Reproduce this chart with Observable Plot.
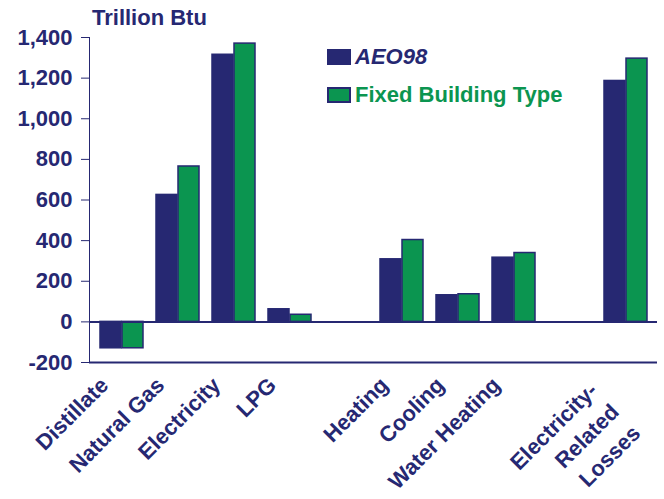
<!DOCTYPE html>
<html>
<head>
<meta charset="utf-8">
<script src="https://cdn.jsdelivr.net/npm/d3@7"></script>
<script src="https://cdn.jsdelivr.net/npm/@observablehq/plot@0.6"></script>
<style>
  html, body { margin: 0; padding: 0; background: #ffffff; }
  #wrap { position: relative; width: 664px; height: 499px; font-family: "Liberation Sans", Arial, sans-serif; }
  .lbl { position: absolute; font-weight: bold; font-size: 22px; line-height: 22px; white-space: nowrap; }
  .sw { position: absolute; width: 24px; height: 16px; box-sizing: border-box; }
</style>
</head>
<body>
<div id="wrap">
  <div id="chart"></div>
  <div class="lbl" id="title" style="left:92px; top:7px; color:#262872;">Trillion Btu</div>
  <div class="sw" style="left:327px; top:49px; background:#262872;"></div>
  <div class="lbl" style="left:355px; top:46px; color:#262872; font-style:italic;">AEO98</div>
  <div class="sw" style="left:327px; top:87px; background:#0b9550; border:2px solid #262872;"></div>
  <div class="lbl" style="left:355px; top:84px; color:#0b9550;">Fixed Building Type</div>
</div>
<script>
const categories = ["Distillate", "Natural Gas", "Electricity", "LPG", "gap1", "Heating", "Cooling", "Water Heating", "gap2", "Losses"];
const labels = ["Distillate", "Natural Gas", "Electricity", "LPG", "", "Heating", "Cooling", "Water Heating", "", "Electricity-\nRelated\nLosses"];
const seriesNames = ["AEO98", "Fixed Building Type"];
const aeo98 = [-130, 625, 1315, 62, null, 308, 131, 316, null, 1186];
const fixedBuilding = [-130, 765, 1370, 35, null, 403, 136, 339, null, 1296];
const yTicks = [-200, 0, 200, 400, 600, 800, 1000, 1200, 1400];

const navy = "#262872";
const green = "#0b9550";

const rowsA = categories.map((c, i) => ({cat: c, value: aeo98[i]})).filter(d => d.value != null);
const rowsF = categories.map((c, i) => ({cat: c, value: fixedBuilding[i]})).filter(d => d.value != null);
const labelRows = categories.map((c, i) => ({cat: c, label: labels[i]})).filter(d => d.label !== "");
const singleLabels = labelRows.filter(d => !d.label.includes("\n"));
const multiLabels = labelRows.filter(d => d.label.includes("\n"));

const fmt = d => (d < 0 ? "-" : "") + Math.abs(d).toLocaleString("en-US");

const chart = Plot.plot({
  width: 664,
  height: 499,
  marginTop: 37,
  marginBottom: 137,
  marginLeft: 89,
  marginRight: 7,
  style: {fontFamily: "'Liberation Sans', Arial, sans-serif", fontSize: "22px", fontWeight: "bold", color: navy, background: "transparent"},
  x: {type: "band", domain: categories, padding: 0, axis: null},
  y: {domain: [-200, 1400], ticks: yTicks, tickFormat: fmt, tickSize: 8, tickPadding: 9, label: null, line: true},
  marks: [
    Plot.barY(rowsA, {x: "cat", y: "value", fill: navy, stroke: navy, strokeWidth: 1.5, insetLeft: 7, insetRight: 28}),
    Plot.barY(rowsF, {x: "cat", y: "value", fill: green, stroke: navy, strokeWidth: 1.5, insetLeft: 29, insetRight: 6}),
    Plot.ruleY([0], {stroke: navy, strokeWidth: 2}),
    Plot.ruleY([-200], {stroke: navy, strokeWidth: 2}),
    Plot.text(singleLabels, {x: "cat", frameAnchor: "bottom", text: "label", rotate: -45, textAnchor: "end", lineAnchor: "top", dx: -23, dy: 13, fontSize: 22, fontWeight: "bold", fill: navy}),
    Plot.text(multiLabels, {x: "cat", frameAnchor: "bottom", text: "label", rotate: -45, textAnchor: "end", lineAnchor: "top", lineHeight: 1.38, dx: -42, dy: 14, fontSize: 22, fontWeight: "bold", fill: navy})
  ]
});
document.getElementById("chart").appendChild(chart);
</script>
</body>
</html>
